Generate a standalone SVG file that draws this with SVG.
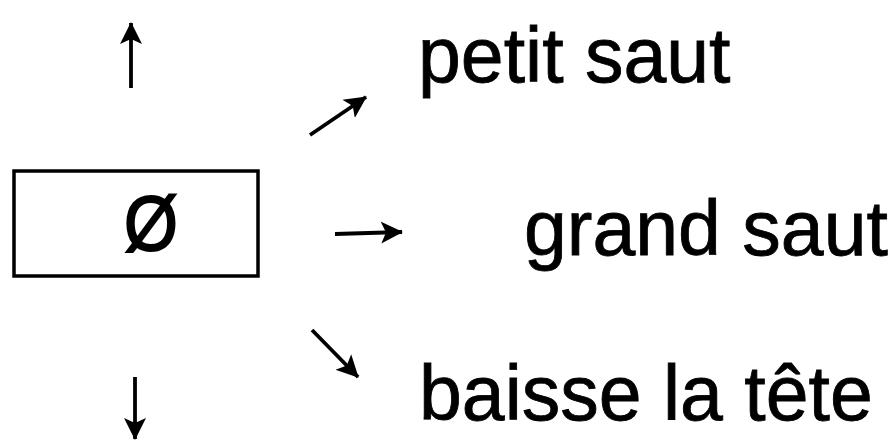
<svg xmlns="http://www.w3.org/2000/svg" width="892" height="445" viewBox="0 0 892 445">
<style>
.lbl{font-family:"Liberation Sans",Arial,sans-serif;font-size:77px;fill:#000;stroke:#000;stroke-width:0.8}
.arr{stroke:#000;stroke-width:3.8;fill:none;marker-end:url(#ah)}
</style>
<defs>
<marker id="ah" markerUnits="userSpaceOnUse" markerWidth="26" markerHeight="26" refX="21" refY="12" orient="auto">
<path d="M0,1 L22,12 L0,23 L5,12 Z" fill="#000"/>
</marker>
</defs>
<rect width="892" height="445" fill="#fff"/>
<g id="state">
<rect x="14" y="171" width="244" height="105" fill="none" stroke="#000" stroke-width="3.5"/>
<text class="lbl" x="0" y="0" text-anchor="middle" transform="translate(151,250) scale(0.9,1.02)" style="stroke-width:2">Ø</text>
</g>
<g id="connectors">
<line class="arr" x1="131" y1="88" x2="131" y2="23"/>
<line class="arr" x1="135" y1="377" x2="135" y2="439"/>
<line class="arr" x1="310" y1="135" x2="366" y2="97"/>
<line class="arr" x1="335" y1="234" x2="402" y2="232"/>
<line class="arr" x1="312" y1="330" x2="358" y2="377"/>
</g>
<g id="petit"><text class="lbl" x="418" y="82">petit saut</text></g>
<g id="grand"><text class="lbl" x="524" y="255">grand saut</text></g>
<g id="baisse"><text class="lbl" x="419" y="420">baisse la tête</text></g>
</svg>
